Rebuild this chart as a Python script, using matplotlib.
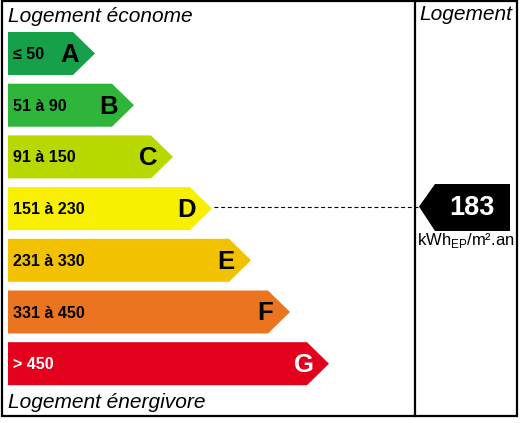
import matplotlib
matplotlib.use('Agg')
from matplotlib import pyplot as plt
from matplotlib.patches import Polygon, Rectangle

plt.rcParams['font.family'] = ['Liberation Sans', 'DejaVu Sans']

# energy classes (DPE label)
classes = ['A', 'B', 'C', 'D', 'E', 'F', 'G']
ranges = ['≤ 50', '51 à 90', '91 à 150', '151 à 230', '231 à 330', '331 à 450', '> 450']
upper = [50, 90, 150, 230, 330, 450, float('inf')]
colors = ['#16a04a', '#2fb53a', '#b8d800', '#f8f000', '#f2c100', '#ea7420', '#e2001c']
text_colors = ['black', 'black', 'black', 'black', 'black', 'black', 'white']
value = 183
unit = r'kWh$_{\mathregular{EP}}$/m².an'

fig = plt.figure(figsize=(5.21, 4.23), dpi=100)
ax = fig.add_axes([0, 0, 1, 1])
ax.set_xlim(0, 521)
ax.set_ylim(423, 0)
ax.axis('off')

# frame + divider
ax.add_patch(Rectangle((2, 1.5), 515, 414.5, fill=False, lw=1.6, ec='black'))
ax.plot([415, 415], [1.5, 416], color='black', lw=1.6)

x0 = 8
top0 = 32
pitch = 51.7
h = 43
tip0 = 95
step = 39
depth = 22

idx = next(i for i, u in enumerate(upper) if value <= u)

for i, (c, r, col, tc) in enumerate(zip(classes, ranges, colors, text_colors)):
    top = top0 + i * pitch
    tip = tip0 + i * step
    mid = top + h / 2
    ax.add_patch(Polygon([(x0, top), (tip - depth, top), (tip, mid),
                          (tip - depth, top + h), (x0, top + h)],
                         closed=True, fc=col, ec='none'))
    ax.text(x0 + 5, mid + 1, r, fontsize=11.5, fontweight='bold', color=tc,
            ha='left', va='center')
    ax.text(tip - 25, mid + 1.5, c, fontsize=18.5, fontweight='bold', color=tc,
            ha='center', va='center')
    if i == idx:
        ymark = mid - 2
        xtip = tip

# dotted leader to the value arrow
ax.plot([xtip + 2, 419], [ymark, ymark], color='black', lw=0.8,
        linestyle=(0, (3.5, 2.5)))

# black value arrow
ax.add_patch(Polygon([(419, ymark), (435, 184), (510, 184), (510, 231), (435, 231)],
                     closed=True, fc='black', ec='none'))
ax.text(472, ymark + 1, str(value), fontsize=19.5, fontweight='bold', color='white',
        ha='center', va='center')
ax.text(466, 240, unit, fontsize=12, ha='center', va='center')

ax.text(8, 16, 'Logement économe', fontsize=15, style='italic', ha='left', va='center')
ax.text(466, 14, 'Logement', fontsize=15, style='italic', ha='center', va='center')
ax.text(8, 403, 'Logement énergivore', fontsize=15, style='italic', ha='left', va='center')

plt.savefig('out.png', dpi=100)
